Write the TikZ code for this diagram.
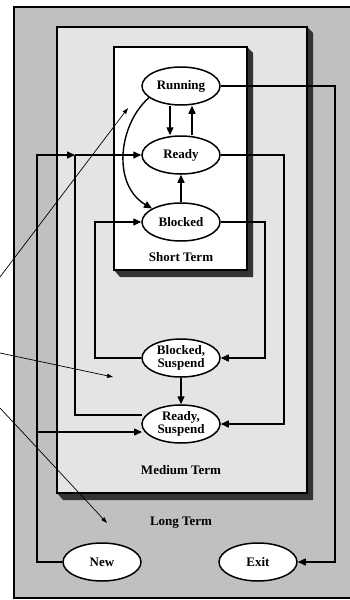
\documentclass[tikz,border=0pt]{standalone}
\usepackage{fontspec}
\setmainfont{Liberation Serif}
\usetikzlibrary{shapes.geometric,arrows.meta,calc}
\definecolor{longgray}{HTML}{C0C0C0}
\definecolor{medgray}{HTML}{E4E4E4}
\definecolor{shadowc}{HTML}{333333}
\tikzset{
  state/.style={ellipse,draw=black,line width=1.5pt,fill=white,minimum width=78pt,minimum height=38pt,inner sep=0pt,align=center,font=\fontsize{13}{13.5}\selectfont\bfseries},
  lbl/.style={font=\fontsize{13}{15}\selectfont\bfseries},
  wire/.style={line width=1.4pt},
  arr/.style={wire,-{Triangle[length=8pt,width=7pt]}},
  ptr/.style={line width=0.7pt,-{Triangle[length=6pt,width=4pt]}},
  boxline/.style={draw=black,line width=1.5pt}
}
\begin{document}
\begin{tikzpicture}[x=1pt,y=-1pt]
\useasboundingbox (0,0) rectangle (349,600);
% long term box
\fill[white] (0,0) rectangle (349,600);
\path[fill=longgray,boxline] (14,7) rectangle (352,598);
% medium term box with shadow
\fill[shadowc] (307,27) -- (313,33) -- (313,500) -- (63,500) -- (57,493) -- (307,493) -- cycle;
\path[fill=medgray,boxline] (57,27) rectangle (307,493);
% short term box with shadow
\fill[shadowc] (247,47) -- (253,53) -- (253,277) -- (120,277) -- (114,270) -- (247,270) -- cycle;
\path[fill=white,boxline] (114,47) rectangle (247,270);

% labels
\node[lbl] (stl) at (181,257) {Short Term};
\node[lbl] (mtl) at (181,470) {Medium Term};
\node[lbl] (ltl) at (181,523) {Long Term};

% states
\node[state] (run) at (181,86) {Running};
\node[state] (rdy) at (181,155) {Ready};
\node[state] (blk) at (181,222) {Blocked};
\node[state] (bs) at (181,358) {Blocked,\\Suspend};
\node[state] (rs) at (181,424) {Ready,\\Suspend};
\node[state] (new) at (102,562) {New};
\node[state] (exit) at (258,562) {Exit};

% helper coordinates
\coordinate (jn) at (75,155);
\coordinate (rsout) at (142,415);
\coordinate (rsin) at (142,432);

% short term transitions
\draw[arr] ([xshift=-11pt]run.south) -- ([xshift=-11pt]rdy.north);
\draw[arr] ([xshift=11pt]rdy.north) -- ([xshift=11pt]run.south);
\draw[arr] (blk.north) -- (rdy.south);
\draw[wire,-{Triangle[length=8pt,width=7pt]}] (run.200) .. controls (118,125) and (112,185) .. (blk.155);

% exit
\draw[arr] (run.east) -- (335,86) |- (exit.east);
% ready -> ready,suspend
\draw[arr] (rdy.east) -- (284,155) |- (rs.east);
% blocked -> blocked,suspend
\draw[arr] (blk.east) -- (265,222) |- (bs.east);
% blocked,suspend -> blocked
\draw[arr] (bs.west) -- (95,358) |- (blk.west);
% blocked,suspend -> ready,suspend
\draw[arr] (bs.south) -- (rs.north);
% ready,suspend -> ready
\draw[wire] (rsout) -- (75,415) -- (jn);
\draw[arr] (jn) -- (rdy.west);
% new -> ready
\draw[arr] (new.west) -- (37,562) |- (jn);
% new -> ready,suspend
\draw[arr] (37,432) -- (rsin);

% pointer lines
\coordinate (p1s) at (0,277);
\coordinate (p1e) at (128,108);
\coordinate (p2s) at (0,353);
\coordinate (p2e) at (113,377);
\coordinate (p3s) at (0,408);
\coordinate (p3e) at (107,523);
\draw[ptr] (p1s) -- (p1e);
\draw[ptr] (p2s) -- (p2e);
\draw[ptr] (p3s) -- (p3e);
\end{tikzpicture}
\end{document}
